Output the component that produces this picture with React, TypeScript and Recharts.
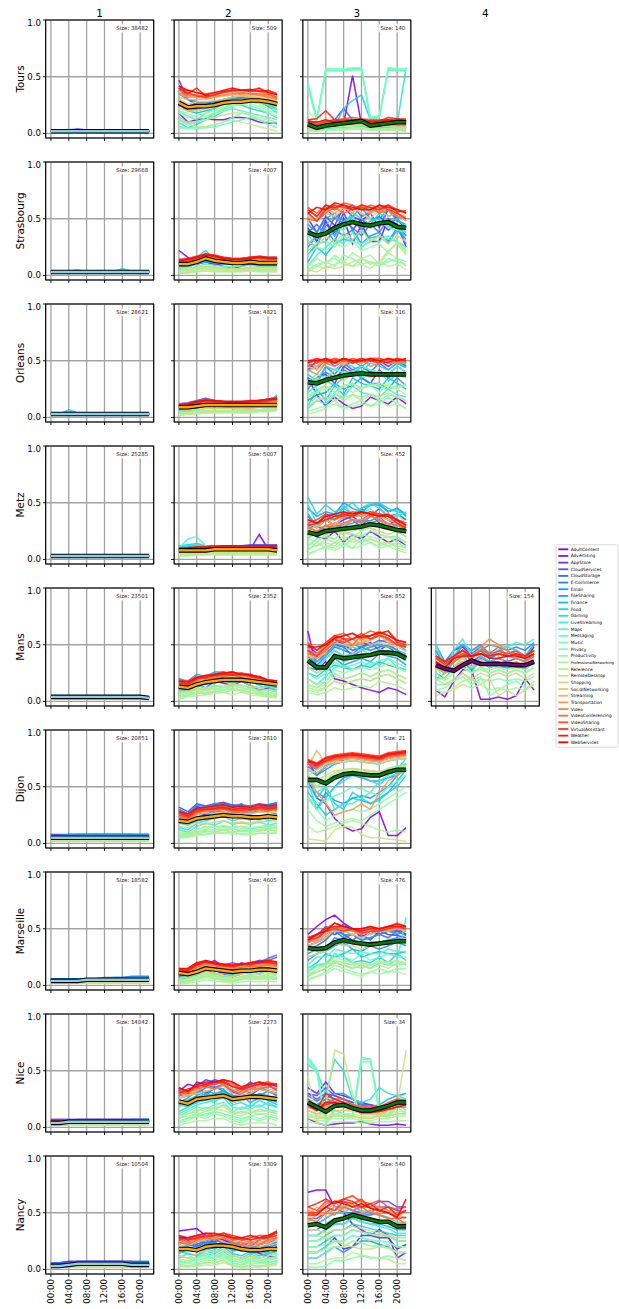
import React from "react";
import { CartesianGrid, Line, LineChart, XAxis, YAxis } from "recharts";

const cities = ["Tours", "Strasbourg", "Orleans", "Metz", "Mans", "Dijon", "Marseille", "Nice", "Nancy"];
const clusters = ["1", "2", "3", "4"];
const hours = [0, 2, 4, 6, 8, 10, 12, 14, 16, 18, 20, 22];
const hourTicks = [0, 4, 8, 12, 16, 20];
const yTicks = [0, 0.5, 1];
const categories = [
  "AdultContent", "Advertising", "AppStore", "CloudServices", "CloudStorage", "E-Commerce",
  "Email", "FileSharing", "Finance", "Food", "Gaming", "LiveStreaming", "Maps", "Messaging",
  "Music", "Privacy", "Productivity", "ProfessionalNetworking", "Reference", "RemoteDesktop",
  "Shopping", "SocialNetworking", "Streaming", "Transportation", "Video", "VideoConferencing",
  "VideoSharing", "VirtualAssistant", "Weather", "WebServices",
];

// "Size: N" per panel, one list per city
const panelSizes = [
  [38482, 509, 140],
  [29668, 4007, 348],
  [28621, 4821, 316],
  [25285, 5007, 452],
  [23501, 2352, 852, 154],
  [20851, 2810, 21],
  [18582, 4605, 476],
  [14042, 2273, 34],
  [10504, 3309, 540],
];

// each string = 12 values (00:00..22:00), two digits each, in hundredths
const toursMean = ["020202020202020202020202", "272324242527282829292826", "080507080910110708091010"];
const strasbourgMean = ["030303030303030303030303", "101012151312111112111111", "383537424547454446474342"];
const orleansMean = ["030303030303030303030303", "090910111111111111111111", "313033353738393838383838"];
const metzMean = ["030303030303030303030303", "080808080909090909090908", "242225262728293130282625"];
const mansMean = ["040404040404040404040403", "131215171819191918171615", "363030403839404143434238", "322927323633333333323235"];
const dijonMean = ["050505050505050505050505", "201922232425242423232423", "565653586162616060636565"];
const marseilleMean = ["040404040505050505050505", "111012151413121313141413", "333233384038373637383939"];
const niceMean = ["040405050505050505050505", "232125262728252627272625", "221814192017151517192222"];
const nancyMean = ["030304050505050505040404", "181817202121201817171818", "394037434548464442423838"];

const toursC1 = [
  "020203040302020202020202", "020202030202020202020202", "020202020202020202020302", "030303030303030303030303",
  "020202020202020202020202", "030302020203030202020202", "020202020202020202020202", "020202020202030302020202",
  "030302020202020202020303", "020202020303020202020202", "020202020203030302020202", "030303030302020202030303",
  "020202020202020202020202", "020204030202020202020202", "010101010101010101010101", "010102020101010101010101",
  "010101010101010101010101", "020202020202020202020202", "010101010202020101010101", "010101010101010101010101",
  "020202020202020202020202", "020202020202020202020202", "020202020202020202020202", "020202020202020202020202",
  "020202020202020202020202", "020202020202020202020202", "030302020202020202020202", "020202020202020202020202",
  "030303020202020202020202", "030302020202020202020202",
];
const toursC2 = [
  "181012131212141413100909", "302426252728303029282624", "473025262829303131302827", "252022232527282928292725",
  "403028272830323231302926", "282426262729303031302927", "353028262830313232313028", "150810121520252730282418",
  "302018202226283030292620", "100508121822262522201814", "252220222426282928272522", "201512182228303030282520",
  "120810141820222018161412", "060505050608101214121008", "050404060810141816120805", "150810121620242624221815",
  "201814151822252826242018", "181416182024263028262220", "100806060810121008060402", "121010121416181816141210",
  "222020222426283030282624", "302628282930323332313028", "323030303233343433333230", "353232313234353535343330",
  "363333323334353535343230", "383434333436373635353431", "403836353637383837373532", "423633323436383837383734",
  "403540333437383839373835", "423836343638403838403634",
];
const toursC3 = [
  "100808100851080404030403", "120808090910080606050606", "080606080810100706060705", "101010122212100808080808",
  "080808091010100909090909", "060606070808080807070707", "080707080909101009090909", "050405060708070605050605",
  "080808091012121009091010", "060606062229341208080806", "040404050506060505050858", "070707080909090808080808",
  "441356565657571315575656", "421255555556561214565555", "401157575758581416585757", "030303040405050404040403",
  "020203030404040303030302", "201005060606050404040404", "030203030304040303030302", "050406060707070606060505",
  "060506070808080707070606", "080708091010100909091010", "090809101112111010101111", "070607080909090808080808",
  "100910111212121111111212", "080708091010100909091010", "111011121314131212121313", "090810111212121111111211",
  "121320121112121111141311", "101012101011111010121110",
];

const strasbourgC1 = [
  "030303030303030303030303", "040404040404040404040404", "030303030303030303030303", "040404040404040404040404",
  "040403030303030304040404", "030303030303030303030303", "040404040404040405040404", "030303030303030304030303",
  "030304030303030303030303", "030304050303030303030303", "030303030303030306040303", "040404040404040404040404",
  "030303030303030303030303", "030304040303030303030303", "020202020202020202020202", "020202020202020202020202",
  "020202020202020202020202", "020202030202020202020202", "020202020202020202020202", "020202020202020202020202",
  "030303030303030303030303", "030303030303030303030303", "030303030303030303030303", "030303030303030303030303",
  "030303030303030303030303", "040404040404040404040404", "040404040404040404040404", "040404040404040404040404",
  "040404040404040404040404", "040404030303030303030404",
];
const strasbourgC2 = [
  "221610121008060810080808", "120810120910101010090909", "101012141212111211111111", "141416181615141415161515",
  "121214161514131314151414", "131315171614141415161515", "101012141312121213141313", "121316181514141415171616",
  "080810121110101011121111", "101216221412121213131212", "080812201210101011111010", "060810141210101011101010",
  "050608100908080809080808", "040507080706060607060606", "030405070606050506050505", "020304060505040405040404",
  "030304050404040405040404", "020203040303030304030303", "040506070606050606060606", "020304050404040404040404",
  "050607080707060607070707", "091012141312111112121212", "101113151413121213131313", "111214161514131314141414",
  "121315171615141415151515", "111214171615141415151414", "131416181716151516161515", "121315191715141516161515",
  "141517191816151516171616", "131416181715141415161515",
];
const strasbourgC3 = [
  "423048355028453030504525", "503852446052485542585040", "302545385540504248404535", "554860505862525660525548",
  "384535524550404852455042", "253540304842354538504032", "182830403540283538304228", "453850554852605050584845",
  "122518283230403335284035", "403245524655504555485042", "283540354552424850434538", "081825322838253035323025",
  "352838424050454248424038", "222830253530283230353022", "051012081815101208151210", "100812151008151210121508",
  "182522282530222528203020", "081510181220151810201512", "030806101208100612081005", "050308060812151012222818",
  "302535283832403035283530", "485055525860555058525548", "524858556055625460585250", "554856626058625658605452",
  "585260586258606055625855", "504855605558626055585250", "605562586462586260625855", "554858626058605862585550",
  "585262606258626058625657", "556058646260585862605855",
];

const orleansC1 = [
  "030303030303030303030303", "030303030303030303030303", "030303030303030303030303", "040404040404040404040404",
  "040404040404040404040404", "030304030303030303030303", "040405040404040404040404", "030304030303030303030404",
  "030305040303030303030303", "030307040303030303030303", "030305030303030303030303", "030303030303030303030303",
  "030303030303030303030303", "020202020202020202020202", "020202020202020202020202", "020202020202020202020202",
  "020202020202020202020202", "020202020202020202020202", "020202020202020202020202", "020202020202020202020202",
  "030303030303030303030303", "030303030303030303030303", "030303030303030303030303", "030303030303030303030303",
  "030303030303030303030303", "030303030303030303030303", "040404040404040404040404", "030303030303030303030303",
  "040404040404040404040404", "030303030303030303030303",
];
const orleansC2 = [
  "080610121010080808101012", "100812151311111111121314", "090811141211101010111213", "121315171514141414151618",
  "111214161413131313141517", "101113151312121212131416", "111214161413131314151618", "091013151312121213141518",
  "080911131211111112131416", "070810121110101011121420", "060709111010101011121315", "050608101009090910111214",
  "040506080808080809091011", "030405060606060607070809", "020304050505050505060708", "030304050505050505060607",
  "020303040404040404050506", "030404050505050505060607", "040405060606060606070708", "030304050505050505060607",
  "050607080808080808090910", "080910121111111111121213", "091011131212121212131314", "091011131212121212131314",
  "101112141313131313141415", "091012141313121212131415", "101113151414131313141516", "111214161514141414151617",
  "101113151414131314141516", "111214151514141415151617",
];
const orleansC3 = [
  "352010181208101815121812", "425048524550485250455048", "283538304540353042354038", "484252455048525048525045",
  "353045384842454048424844", "253540354238454040384540", "152022302528353030253528", "424550484850455052484846",
  "102515282035302825353025", "383245424845404845424844", "222832283540353840323835", "081512201828222018252018",
  "323835424040454240384540", "182528222830253028252828", "121815221520182015201815", "050810150812151012181208",
  "202225182822252822302520", "030508120810121015101208", "182228252830262830282530", "101518151820152018221815",
  "283530383240383540384035", "454248504652485048525048", "404550484850525048504850", "484552485250485250484852",
  "423848455048524548504848", "485050525048505252505250", "505248525052505252505250", "454852505248505048525050",
  "485250485250525050485250", "505052485250505250525052",
];

const metzC1 = [
  "030303030303030303030303", "030303030303030303030303", "030303030303030303030303", "030303030303030303030303",
  "030303030303030303030303", "030303030303030303030303", "030303030303030303030303", "030303030303030304030303",
  "030303030303030303030303", "030303030303030303030303", "030303030303030303030303", "030303030303030303030303",
  "040403030303030303030303", "040403030303030303030303", "040404030303030303030303", "020202020202020202020202",
  "020202020202020202020202", "020202020202020202020202", "020202020202020202020202", "020202020202020202020202",
  "030303030303030303030303", "030303030303030303030303", "030303030303030303030303", "030303030303030303030303",
  "030303030303030303030303", "030303030303030303030303", "030303030303030303030303", "030303030303030303030303",
  "030303030303030303030303", "030303030303030303040303",
];
const metzC2 = [
  "080807080808080809220908", "101011111111111111121212", "090909101010101010111111", "111112121212121213131313",
  "101011111111111112121212", "090910101010101011111111", "080809090909090910101010", "101012121111111112121212",
  "070708080808080809090909", "121314121010101011111111", "101213111010101010111111", "081012101010101010101010",
  "101820120909090909090909", "060606070707070707070707", "050505060606060606060606", "040405050505050505050505",
  "030304040404040404040404", "040404050505050505050505", "050505060606060606060606", "040404050505050505050505",
  "060606070707070707070707", "080808090909090909090909", "090909101010101010101010", "080809090910101010101010",
  "090910101011111111111111", "080809090910101010101010", "090910101011111111111111", "101011111112121212121212",
  "090910101011111111111111", "101011111112121212121212",
];
const metzC3 = [
  "252018251522182520151812", "302835303538323840353028", "283025323035284032303525", "383040354238453845384035",
  "322835303835354038353230", "252230283032353438303225", "453842405045424848424540", "222528303028353235283025",
  "403035384540454850424538", "554048424550424850454240", "483238354840455045383842", "182522252830253230282520",
  "283238353838404538354032", "121820182522202522202015", "081510151218151815121510", "050812101510181512151008",
  "151218152018222018201512", "040810081210121510120806", "181522182520252822201815", "101215121815181815151210",
  "202522252225282825222520", "253028323035323835303228", "322835303838384038353230", "282530323235353835303025",
  "303235353840384240383532", "282530283235323835323028", "353238354038424040383532", "323540383842404240383530",
  "303235384038424038383228", "353238404240424038403530",
];

const mansC1 = [
  "030303030303030303030303", "040404040404040404040404", "030303030303030303030303", "040404040404040404040404",
  "040404040404040404040404", "040404040404040404040404", "040404040404040404040403", "040404040404040404040404",
  "040404040404040404040404", "040404040404040404040404", "040404040404040404040404", "030303030303030303030303",
  "030303030303030303030303", "030303030303030303030303", "020202020202020202020202", "020202020202020202020202",
  "020202020202020202020202", "020202020202020202020202", "030303030303030303030303", "020202020202020202020202",
  "030303030303030303030303", "030303030303030303030303", "040404040404040404040404", "040404040404040404040404",
  "040404040404040404040404", "040404040404040404040404", "040404040404040404040404", "040404040404040404040404",
  "040405050505050505050404", "040404040404040404040404",
];
const mansC2 = [
  "120815121816141814101210", "181420182224202422181614", "151218222025222420221816", "201622202425262224201815",
  "141218221923202422201718", "181420182225232422201814", "121622201822242022201715", "201824222626242522201816",
  "101216151820182020161412", "141220182426222420181614", "081215181620181918141210", "101014121618161814121410",
  "060812101412161412101008", "050808101210141210080806", "040607080910111008070605", "030508060908101008060504",
  "060810081210121012080806", "020405060708060806050403", "060910121012141210090807", "040608070908100908070504",
  "080912101414151413121009", "141218201920222020181614", "161420182224202221181715", "151620222123242220191816",
  "181622202224252422201817", "151418222022242120181615", "171620232224262423201918", "181822202426242524211918",
  "161520222324232422211817", "181721232425262423221918",
];
const mansC3 = [
  "622835201815121008121006", "504248555045485245504540", "453542504840454850484238", "483845554850525054525048",
  "403240484542484548504540", "353038454038424045424038", "302832383235383542403832", "454045524850485052555045",
  "252228323028323035323028", "403540504548454850484542", "302530423538404245424036", "201522303228303532383028",
  "353038454042454246444238", "252025353032353236383430", "151218252022252226282420", "100812181518201822242016",
  "201518282528302830343026", "080608121012141218161410", "151215222022252226282420", "121012181518201822242016",
  "302530403840424044424036", "423848525048555052504844", "403845555250525458525048", "483842585255505860555048",
  "454250555860545862585452", "424045525550585560545048", "524550586055586260625452", "454048555255605558565048",
  "504552585555585860625250", "484850565860565861585452",
];
const mansC4 = [
  "100418282802020402052010", "403045484045384240423848", "352540453540353835383542", "453038504248404542454050",
  "302535403038353530353040", "503545504550424845484552", "252030352835303230322835", "403540454045384240423845",
  "202528303035323030303035", "453540504548404548454050", "302535452540353840383545", "503045554045505048525055",
  "352530403035303235323040", "202028302530252825282530", "151518221520182018201822", "101218251822051015181215",
  "251825302528252825282530", "100810151215101210121015", "302028352530283028302835", "050812182015200510051018",
  "201520252025222522252025", "352830383035323432343038", "403035423842404240423842", "302530353535454032353035",
  "383238453848555045403845", "353035403845504840383540", "403540454045424442444045", "383338424042404240423842",
  "403540454042404240424045", "353038404042383840403842",
];

const dijonC1 = [
  "070707070708070707070707", "080808080808080808080808", "070707080808080808080707", "070708080808080808080808",
  "060707070707070707070707", "060606070707070707070707", "070708080808080808080808", "060606060707070707060606",
  "050606060606060606060606", "050506060606060606060606", "050505050505050505050505", "040404050505050505050505",
  "040404040404040404040404", "030303040404040404040404", "030303030303030303030303", "020202020303030303030303",
  "030303030303030303030303", "020202020202020202020202", "030303030303030303030303", "020202020202020202020202",
  "040404040404040404040404", "040404040404040404040404", "050505050505050505050505", "040404050505050505050404",
  "050505050505050505050505", "050505060606060606060606", "050505050505050505050505", "060606060606060606060606",
  "050505050505050505050505", "060606060606060606060606",
];
const dijonC2 = [
  "221828253032282630283032", "282432303436323530323436", "322835333536343233353436", "262230283430332830283134",
  "302633303335343432303335", "242028263032282926303228", "302634323535323433313436", "201826242828262726282826",
  "282430283334313032303234", "181620222624262225232622", "141218202224202221242022", "121015181620171817191618",
  "100812151415141513141516", "080710121212131112121314", "060608080909100808090909", "050608101012101110111211",
  "080810131214121312121413", "050507080910080908090910", "100912151416141514151615", "070709111012101110111211",
  "151418171920181918201920", "222025272628252726282728", "242227282930282928302930", "262328303031302930313031",
  "242630293132293130313032", "232227292830272828302930", "282529313233303231333233", "252328303031292930313031",
  "272430303132303130323132", "282631323334323332343334",
];
const dijonC3 = [
  "554035221511132328070714", "706872747576757473767778", "726068727476757473757778", "706570737576757574767778",
  "686268727475747372757677", "504540505860585555586065", "403045383540424045506070", "656065707273727170737475",
  "453525303540383540455565", "604050353045403538455060", "553040505560605552586265", "504550303535404555606575",
  "605055626566656463666870", "403538424550484542505560", "606570727273727170737475", "403020252830283035404550",
  "302015182022202530354045", "151012151820181512101210", "555058626465646362656768", "040302121514080505040302",
  "585560646566656463666769", "656268717273727170737475", "688270737475747372757677", "604535252830353045556065",
  "706672747576757473767778", "727074767778777675787980", "706772757677767574777879", "747176787980797877808182",
  "726973767778777675787980", "737075777879787776798081",
];

const marseilleC1 = [
  "060606060606060606060606", "060606060606060606060606", "050505050505050506060606", "060606060606060606070707",
  "060606060606070707080808", "060606060606060707080808", "050505060606060606070707", "050505050606060606070707",
  "050505050505050506060606", "040404050505050505050505", "040404040505050505050505", "040404040404040404040404",
  "030303030303030303030303", "030303030303030303030303", "020202020202020202020202", "020202020202020202020202",
  "030303030303030303030303", "020202020202020202020202", "030303030303030303030303", "020202020202020202020202",
  "030303030303030303030303", "040404040404040404040404", "040404040404040404040404", "040404040404040404040404",
  "050505050505050505050505", "040404040404040404040404", "050505050505050505050505", "050505050505050505050505",
  "050505050505050505050505", "050505050505050505050505",
];
const marseilleC2 = [
  "080515121410081014101312", "141120182216152018222018", "101418201614121517161915", "151218222018201820222225",
  "121015201816141618202427", "131014181915161519172018", "101216201715141618182020", "120916151816121517161815",
  "090812171413111416151614", "070914151612101312151412", "060810141011091210131211", "050709121008081110111210",
  "040608100907060809081009", "030507090806050708070807", "020406080705040607060706", "010305070604030506050605",
  "030507090806050708070807", "010203050403020304030403", "040608100907060809081009", "020406080705040607060706",
  "060810121109081011101210", "111014161715131517161716", "121115181716141617181817", "131216181917151718181918",
  "141318201817161819192019", "121216191815141617171817", "151418211918161819202120", "131520202017171820202220",
  "141318211918171918202019", "151520222019181920212221",
];
const marseilleC3 = [
  "455258625550484550485045", "384048454850424845484845", "353842504540454048454442", "404452485450505248525048",
  "323540484245404245424844", "283232424038353838404240", "222830353832303532353835", "353842484545404245484548",
  "152028252832252830282830", "121818282520222025202822", "252832383540353538404038", "081215201815181520182260",
  "182525323028302828323030", "151820282522282225282525", "101215222018151820181820", "060812181512101215121515",
  "121618252220181822202220", "040810151210081210121210", "101418222018201820202218", "081215201815181518152018",
  "252830383535323535383838", "353842504845424548485048", "384045484845484548505250", "403845524850464850485250",
  "424548505048455048525050", "384248525048485048505250", "424550555250485250525552", "404248504850464848505250",
  "424550525250485050525252", "404548555250505250525452",
];

const niceC1 = [
  "060606060606060606060606", "070707070707070707070707", "060606070707070707070707", "070707070707070707070707",
  "060606060606060606070707", "060606060606060606060606", "050506060606060606060606", "060606060606060606060707",
  "050505050505050505050505", "050505050505050505050505", "040404050505050505050505", "040404040404040404040404",
  "030303030303030303030303", "030303030303030303030303", "020202020202020202020202", "020202030303030303030303",
  "030303030303030303030303", "020202020202020202020202", "030303030303030303030303", "020202020202020202020202",
  "040404040404040404040404", "050505050505050505050505", "050505050505050505050505", "050506060606060606060606",
  "050505050505050505050505", "060606060606060606060606", "050505050505050505050505", "060606060606060606060606",
  "060606060606060606060606", "050505060606060606060606",
];
const niceC2 = [
  "323836303538322828343230", "353040384240383236384036", "283236424038303440363832", "303234363840323530343634",
  "262830383438303234363230", "283030353632282830343228", "222632283534262830283228", "202428323032282426302826",
  "182226302832242822262420", "201824282630222426282622", "141822242230202218242018", "121620222426181620182218",
  "101418162022141816201614", "081214181620121412161412", "060810121412100810121008", "050812101412080610081008",
  "040610081210060408060806", "020406060808040204040402", "081012141615121014121210", "101216141818141216141412",
  "182024262830222426282624", "262830323436302830343230", "302832363438343032363432", "322834363840363234384036",
  "343038364042383436384038", "283234363438323034343634", "323036383840363436384036", "343238364042403438403838",
  "303436384040363436383836", "353238404042403638403838",
];
const niceC3 = [
  "080402030404050302020302", "353040302825222018202422", "302835282522201816182220", "302530282522202018202522",
  "282328252220181617192220", "252025232018161517182018", "222022222018161516182220", "202025303025201820252830",
  "181618202018161516182022", "201815182018161515182022", "555028605025222535302825", "151215151515121212151818",
  "605005151210606015102015", "625205151210626017122218", "584803121008585812081812", "101008101010080810101212",
  "080606080808060608081010", "050402050505040405050606", "121010121212101010121414", "450520686530100812102068",
  "100808101010080810101212", "151212151515121212151818", "181515181818151515182020", "201818202020181818202222",
  "221820222220181818202524", "181615181816141414161818", "251822252520181818222524", "201520222018151515182022",
  "221630252218151515182220", "201522222016131314161820",
];

const nancyC1 = [
  "060607070707070707060606", "060607070707070707070606", "060606070707070707070606", "060606070707070707070707",
  "060606060707070707070707", "050505060606060606060606", "050505060606060606060606", "050505060606060606060606",
  "040404050505050505050505", "040404050505050505050505", "030304040404040404040404", "030303040404040404040404",
  "030303030303030303030303", "020202030303030303030303", "020202020202020202020202", "020202020202020202020202",
  "020202030303030303030303", "020202020202020202020202", "030303030303030303030303", "020202020202020202020202",
  "030303030303030303030303", "040404040404040404040404", "040404050505050505050505", "040404050505050505050505",
  "040404050505050505050404", "050505050505050505050505", "050505050505050505050505", "050505050505050505050505",
  "050505060606060606050505", "050505050505050505050505",
];
const nancyC2 = [
  "343536302826222018141210", "302826302428222420262830", "262428222624202218222428", "282422262822242018222426",
  "222620242624201822182224", "242220262224221820202022", "182220242022182016181820", "202018222420181618161620",
  "141816201822161814161416", "161412181620141216121416", "101412161418121014101214", "121010141216100812081012",
  "080610121014080610060810", "060808101012060408060608", "040304060608040204030406", "050506080810060406050607",
  "070608101012080608070810", "030203040406030102020304", "090810121214100810080911", "040305060608040204030405",
  "121014161618121012101214", "202224262824222018202226", "242226282628242220222428", "222624282830262422242628",
  "262428302830282624262830", "242226282628242224222628", "282630283030262826282830", "262830323032282628303032",
  "302628303032302826282833", "282830323230282830283034",
];
const nancyC3 = [
  "687070555040353035301015", "151520281820303028281822", "505055606055555560605555", "454550555552505055555250",
  "404045505050484850504845", "353540454548444443434040", "101015201520252522201515", "303035404045424040383535",
  "202025303035333230302525", "252530353540383634323030", "404045505055525048464240", "303035404045424038363232",
  "151520252530282625242020", "101015202025232120191515", "020203080810121010121008", "202022252530282625242020",
  "252528303035333130292525", "151518202025232120191515", "050508101015131110090505", "303028252220181820221008",
  "353532353538363432302828", "455048555258605550524845", "485552585560555854504850", "424850525558505248454042",
  "525058606265585556525052", "454250485552555048454540", "555260586265605861555355", "505055526058625452504546",
  "555862586260555852554852", "484855605855585452504662",
];

const cityPanels = [
  [toursC1, toursC2, toursC3],
  [strasbourgC1, strasbourgC2, strasbourgC3],
  [orleansC1, orleansC2, orleansC3],
  [metzC1, metzC2, metzC3],
  [mansC1, mansC2, mansC3, mansC4],
  [dijonC1, dijonC2, dijonC3],
  [marseilleC1, marseilleC2, marseilleC3],
  [niceC1, niceC2, niceC3],
  [nancyC1, nancyC2, nancyC3],
];
const cityMeans = [toursMean, strasbourgMean, orleansMean, metzMean, mansMean, dijonMean, marseilleMean, niceMean, nancyMean];

// layout (px)
const COL_LEFT = [45.6, 174.2, 302.8, 431.4];
const ROW_TOP = 20;
const ROW_PITCH = 142;
const PLOT_W = 108;
const PLOT_H = 118;
const X_DOMAIN: [number, number] = [-1.1, 23.1];
const Y_DOMAIN: [number, number] = [-0.04, 1];
const meanColors = ["#87ceeb", "#ffa500", "#008000", "#800080"];
const FONT = "DejaVu Sans, sans-serif";

const decode = (s: string) => hours.map((_, i) => Number(s.slice(i * 2, i * 2 + 2)) / 100);

// matplotlib "rainbow"
const rainbow = (i: number) => {
  const x = i / (categories.length - 1);
  const r = Math.min(1, Math.abs(2 * x - 0.5));
  const g = Math.sin(Math.PI * x);
  const b = Math.cos((Math.PI * x) / 2);
  return `rgb(${Math.round(r * 255)},${Math.round(g * 255)},${Math.round(b * 255)})`;
};

const hh = (h: number) => `${String(h).padStart(2, "0")}:00`;

const Panel = ({ row, col }: { row: number; col: number }) => {
  const series = cityPanels[row][col].map(decode);
  const mean = decode(cityMeans[row][col]);
  const data = hours.map((h, i) => {
    const d: Record<string, number> = { h, mean: mean[i] };
    series.forEach((s, k) => (d["c" + k] = s[i]));
    return d;
  });
  const last = row === cities.length - 1;
  const xh = last ? 44 : 8;
  return (
    <div style={{ position: "absolute", left: COL_LEFT[col] - 40, top: ROW_TOP + row * ROW_PITCH - 6 }}>
      <LineChart
        width={40 + PLOT_W + 6}
        height={6 + PLOT_H + xh}
        data={data}
        margin={{ top: 6, right: 6, left: 0, bottom: 0 }}
      >
        <CartesianGrid stroke="#a3a3a3" strokeWidth={1.3} />
        <XAxis
          dataKey="h"
          type="number"
          domain={X_DOMAIN}
          ticks={hourTicks}
          interval={0}
          allowDataOverflow
          axisLine={false}
          tickLine={{ stroke: "#000", strokeWidth: 0.9 }}
          tickSize={3}
          height={xh}
          tick={(p: any) =>
            last ? (
              <text
                x={p.x}
                y={p.y}
                transform={`rotate(-90 ${p.x} ${p.y})`}
                textAnchor="end"
                dy="0.35em"
                fontSize={8.6}
                fontFamily={FONT}
                fill="#000"
              >
                {hh(p.payload.value)}
              </text>
            ) : (
              <g />
            )
          }
        />
        <YAxis
          type="number"
          domain={Y_DOMAIN}
          ticks={yTicks}
          allowDataOverflow
          width={40}
          axisLine={false}
          tickLine={{ stroke: "#000", strokeWidth: 0.9 }}
          tickSize={3}
          tick={(p: any) =>
            col === 0 ? (
              <text x={p.x} y={p.y} textAnchor="end" dy="0.35em" fontSize={8.6} fontFamily={FONT} fill="#000">
                {p.payload.value.toFixed(1)}
              </text>
            ) : (
              <g />
            )
          }
        />
        {series.map((_, k) => (
          <Line
            key={k}
            dataKey={"c" + k}
            stroke={rainbow(k)}
            strokeWidth={1.5}
            strokeOpacity={0.9}
            dot={false}
            activeDot={false}
            isAnimationActive={false}
          />
        ))}
        <Line dataKey="mean" stroke="#000" strokeWidth={4.6} dot={false} activeDot={false} isAnimationActive={false} />
        <Line dataKey="mean" stroke={meanColors[col]} strokeWidth={2.4} dot={false} activeDot={false} isAnimationActive={false} />
      </LineChart>
    </div>
  );
};

const Overlay = () => {
  const sizeFs = 5.4;
  const legTop = 549.3;
  const legStep = 6.655;
  return (
    <svg
      width={619}
      height={1309}
      style={{ position: "absolute", left: 0, top: 0, pointerEvents: "none" }}
      fontFamily={FONT}
    >
      {clusters.map((c, ci) => (
        <text key={c} x={COL_LEFT[ci] + PLOT_W / 2} y={17.3} textAnchor="middle" fontSize={10.4}>
          {c}
        </text>
      ))}
      {cities.map((city, r) => {
        const top = ROW_TOP + r * ROW_PITCH;
        return (
          <g key={city}>
            <text
              x={20}
              y={top + PLOT_H / 2}
              transform={`rotate(-90 20 ${top + PLOT_H / 2})`}
              textAnchor="middle"
              dy="0.35em"
              fontSize={10.4}
            >
              {city}
            </text>
            {panelSizes[r].map((n, ci) => {
              const label = `Size: ${n}`;
              const right = COL_LEFT[ci] + PLOT_W - 5.5;
              const w = sizeFs * (2.71 + 0.636 * String(n).length);
              return (
                <g key={ci}>
                  <rect x={COL_LEFT[ci]} y={top} width={PLOT_W} height={PLOT_H} fill="none" stroke="#000" strokeWidth={1} />
                  <rect x={right - w - 1.5} y={top + 4.3} width={w + 3} height={8} fill="#fff" />
                  <text x={right} y={top + 8.3} textAnchor="end" dy="0.35em" fontSize={sizeFs} fill="#222">
                    {label}
                  </text>
                </g>
              );
            })}
          </g>
        );
      })}
      <rect x={556} y={544.7} width={62} height={202.5} rx={1.5} fill="#fff" stroke="#d0d0d0" strokeWidth={0.8} />
      {categories.map((cat, k) => {
        const y = legTop + k * legStep;
        const long = cat.length > 19;
        return (
          <g key={cat}>
            <line x1={558.3} x2={568.3} y1={y} y2={y} stroke={rainbow(k)} strokeWidth={1.8} />
            <text x={570.7} y={y} dy="0.35em" fontSize={long ? 3.7 : 4.35}>
              {cat}
            </text>
          </g>
        );
      })}
    </svg>
  );
};

export default function App() {
  return (
    <div style={{ position: "absolute", left: 0, top: 0, width: 619, height: 1309, background: "#fff", fontFamily: FONT }}>
      {cities.map((city, r) =>
        cityPanels[r].map((_, c) => <Panel key={city + c} row={r} col={c} />)
      )}
      <Overlay />
    </div>
  );
}
